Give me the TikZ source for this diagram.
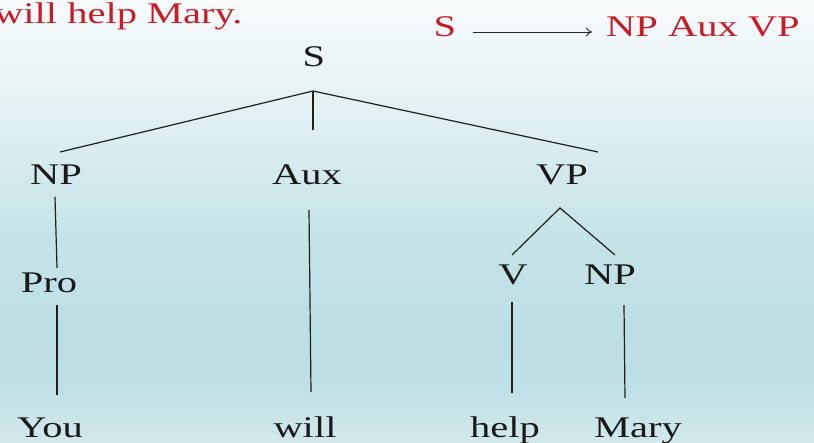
\documentclass[tikz,border=0pt]{standalone}
\usepackage{fontspec}
\setmainfont{Liberation Serif}[FakeStretch=1.35]
\usetikzlibrary{arrows.meta}
\definecolor{slidered}{RGB}{200,28,38}
\definecolor{bgA}{RGB}{248,251,252}
\definecolor{bgB}{RGB}{228,242,244}
\definecolor{bgC}{RGB}{198,228,232}
\definecolor{bgD}{RGB}{188,223,228}
\definecolor{bgE}{RGB}{190,224,229}
\definecolor{bgF}{RGB}{210,233,235}
\tikzset{
  lbl/.style={anchor=base, inner sep=0pt, font=\fontsize{30}{36}\selectfont, text=black!90},
  redlbl/.style={lbl, text=slidered},
  branch/.style={draw=black!88, line width=1.2pt},
}
\begin{document}
\begin{tikzpicture}[x=1pt,y=-1pt]
\useasboundingbox (0,0) rectangle (814,443);
% background
\shade[top color=bgA, bottom color=bgB] (0,-1) rectangle (814,101);
\shade[top color=bgB, bottom color=bgC] (0,100) rectangle (814,231);
\shade[top color=bgC, bottom color=bgD] (0,230) rectangle (814,331);
\shade[top color=bgD, bottom color=bgE] (0,330) rectangle (814,386);
\shade[top color=bgE, bottom color=bgF] (0,385) rectangle (814,444);
% red rule
\node[redlbl, anchor=base west] (sent) at (-6,24) {will help Mary.};
\node[redlbl] (rS) at (445,37) {S};
\node[redlbl, anchor=base west] (rRHS) at (606,37) {NP Aux VP};
\coordinate (arA) at (473,32);
\coordinate (arB) at (592,32);
\draw[black!85, line width=0.9pt, -{To[length=6pt,width=9pt]}] (arA) -- (arB);
% tree labels
\node[lbl] (S) at (314,67) {S};
\node[lbl] (NP1) at (56,185) {NP};
\node[lbl] (Aux) at (307,185) {Aux};
\node[lbl] (VP) at (562,185) {VP};
\node[lbl] (Pro) at (49,293) {Pro};
\node[lbl] (V) at (513,285) {V};
\node[lbl] (NP2) at (610,285) {NP};
\node[lbl] (You) at (50,438) {You};
\node[lbl] (will) at (305,438) {will};
\node[lbl] (help) at (505,438) {help};
\node[lbl] (Mary) at (638,438) {Mary};
% branch points
\coordinate (Sj) at (313,91);
\coordinate (SjL) at (60,152);
\coordinate (SjM) at (313,130);
\coordinate (SjR) at (598,152);
\coordinate (NPa) at (55,197);
\coordinate (NPb) at (57,268);
\coordinate (Proa) at (57,305);
\coordinate (Prob) at (57,395);
\coordinate (Auxa) at (309,210);
\coordinate (Auxb) at (311,392);
\coordinate (VPj) at (560,208);
\coordinate (VPl) at (512,255);
\coordinate (VPr) at (615,255);
\coordinate (Va) at (512,302);
\coordinate (Vb) at (512,393);
\coordinate (NPc) at (624,305);
\coordinate (NPd) at (625,398);
\draw[branch] (SjL) -- (Sj) -- (SjR);
\draw[branch] (Sj) -- (SjM);
\draw[branch] (NPa) -- (NPb);
\draw[branch] (Proa) -- (Prob);
\draw[branch] (Auxa) -- (Auxb);
\draw[branch] (VPl) -- (VPj) -- (VPr);
\draw[branch] (Va) -- (Vb);
\draw[branch] (NPc) -- (NPd);
\end{tikzpicture}
\end{document}
